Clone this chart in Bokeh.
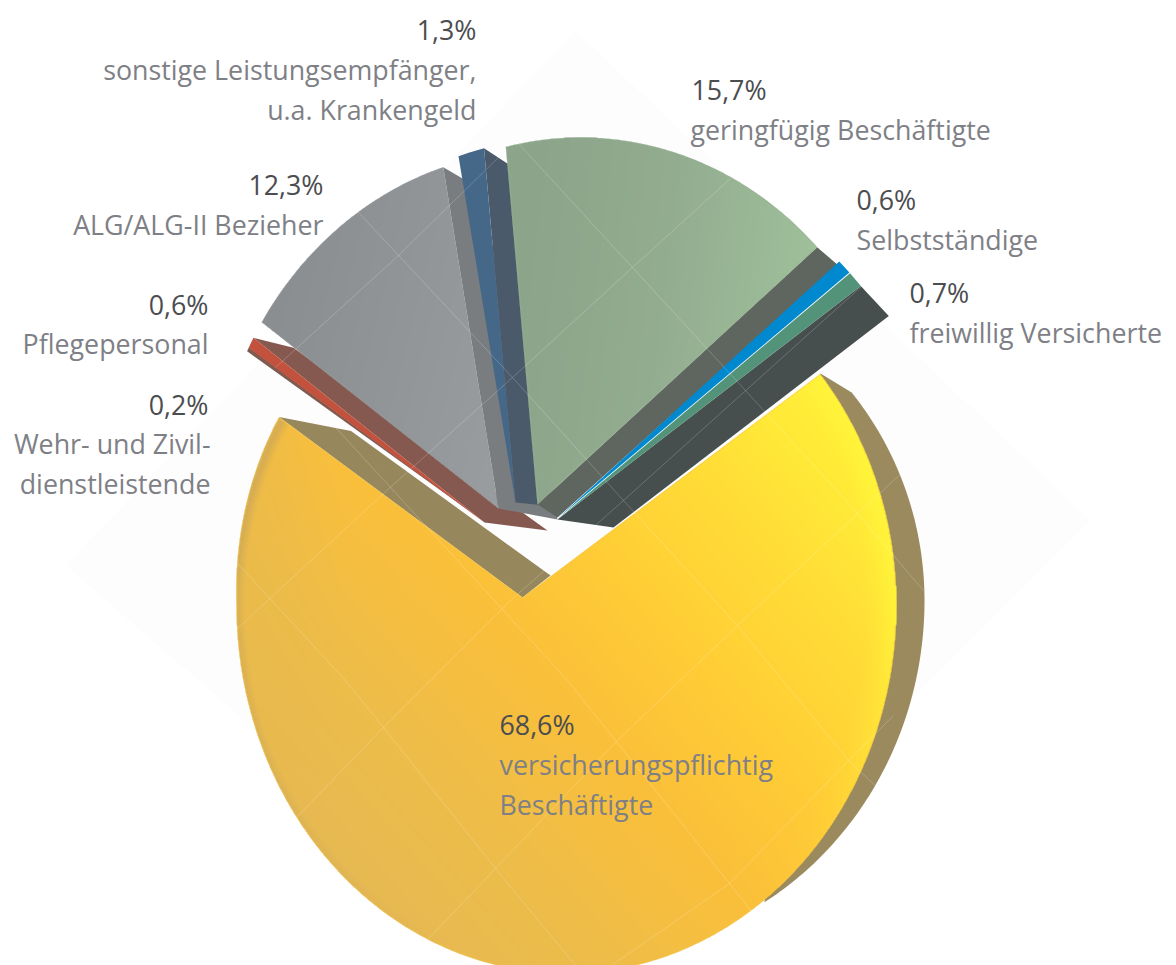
import numpy as np
from bokeh.plotting import figure
from bokeh.models import Range1d, ColumnDataSource
from bokeh.core.properties import value
from bokeh.embed import file_html
from bokeh.resources import INLINE

# ---------- data ----------
names = ["freiwillig Versicherte", "Selbstständige", "geringfügig Beschäftigte",
         "sonstige Leistungsempfänger", "ALG/ALG-II Bezieher", "Pflegepersonal",
         "Wehr- und Zivildienstleistende", "versicherungspflichtig Beschäftigte"]
shares = [0.7, 0.6, 15.7, 1.3, 12.3, 0.6, 0.2, 68.6]
face_colors = ["#53937A", "#0089CF", "#96B193", "#466888", "#94979A", "#C2523D", "#7E5A4F", "#F2C348"]
wall_colors = ["#464F4E", None, "#5F6660", "#4A5A6B", "#7A7D80", "#85594F", None, "#97875C"]

value_labels = ["1,3%", "12,3%", "0,6%", "0,2%", "15,7%", "0,6%", "0,7%", "68,6%"]
value_x = [476, 323, 208, 208, 691, 856, 909, 499]
value_y = [39.5, 194, 314, 414, 99, 209, 302, 734]
value_align = ["right"] * 4 + ["left"] * 4
name_labels = ["sonstige Leistungsempfänger,", "u.a. Krankengeld", "ALG/ALG-II Bezieher", "Pflegepersonal",
               "Wehr- und Zivil-", "dienstleistende", "geringfügig Beschäftigte", "Selbstständige",
               "freiwillig Versicherte", "versicherungspflichtig", "Beschäftigte"]
name_x = [476, 476, 323, 208, 210, 210, 690, 856, 909, 499, 499]
name_y = [79, 119, 234, 353, 453, 493, 139, 249, 342, 774, 814]
name_align = ["right"] * 6 + ["left"] * 5

# ---------- layout of the exploded, perspective pie (pixels of the page) ----------
W, H = 1176, 965
TEXT_SHIFT = -10.5
RX, RY = 330.0, 362.0
START = 39.15
centre_x = [612, 612, 580, 560, 542, 543, 543, 566]
centre_y = [524, 524, 499, 500, 512, 510, 510, 605]
apex_x = [557, 557, 537, 515, 498, 484, 482, 522]
apex_y = [519, 518, 504, 502, 508, 522, 520, 597]
rot = [2.05, 2.45, 0.35, 3.05, 2.47, 2.19, 1.75, -3.55]       # perspective correction, degrees
stretch = [1.10, 1.15, 1.042, 0.983, 0.921, 0.83, 0.97, 1.0168]
shear = [0, 0, 0, 0, 0, 0, 0, 0.035]
ry_below = [362, 362, 362, 362, 362, 362, 362, 368]
wall_out = [(28, 30), None, (21, 18), (26, 17), (36, 21), (40, 10), None, (72, 14)]
wall_in = [(56, 8), None, (20, 13), (40, 4), (59, 11), (63, 8), None, (28, -22)]


def arc(cx, cy, a0, a1, rx=RX, ry=RY, ry2=None, n=None, k=0.0):
    n = n or max(3, int(abs(a1 - a0) * 1.5))
    t = np.radians(np.linspace(a0, a1, n))
    s, c = np.sin(t), np.cos(t)
    sy = np.where(s >= 0, ry, ry2 or ry) * s
    return cx + rx * c - k * np.clip(sy, 0, None) * np.clip(-c, 0, None), cy - sy


cum = np.concatenate([[0], np.cumsum(shares)[:-1]]) * 3.6 + START
a_start = [c + r for c, r in zip(cum, rot)]
a_end = [s + v * 3.6 * k for s, v, k in zip(a_start, shares, stretch)]


def face(i):
    x, y = arc(centre_x[i], centre_y[i], a_start[i], a_end[i], ry2=ry_below[i], k=shear[i])
    return np.r_[apex_x[i], x], np.r_[apex_y[i], y]


def wall(i):
    x, y = arc(centre_x[i], centre_y[i], a_start[i], a_start[i], n=2, k=shear[i])
    ox, oy = x[0], y[0]
    ax, ay = apex_x[i], apex_y[i]
    return ([ax, ox, ox + wall_out[i][0], ax + wall_in[i][0]],
            [ay, oy, oy + wall_out[i][1], ay + wall_in[i][1]])


def hexrgb(c):
    return np.array([int(c[k:k + 2], 16) for k in (1, 3, 5)], float)


def raster_mask(px, py):
    x0, x1 = int(np.floor(px.min())), int(np.ceil(px.max()))
    y0, y1 = int(np.floor(py.min())), int(np.ceil(py.max()))
    w, h = x1 - x0, y1 - y0
    m = np.zeros((h, w), bool)
    qx, qy = np.r_[px[1:], px[0]], np.r_[py[1:], py[0]]
    for r in range(h):
        yc = y0 + r + .5
        hit = ((py <= yc) & (qy > yc)) | ((qy <= yc) & (py > yc))
        xs = np.sort(px[hit] + (yc - py[hit]) / (qy[hit] - py[hit]) * (qx[hit] - px[hit]))
        for a, b in zip(xs[::2], xs[1::2]):
            m[r, max(0, int(np.ceil(a - x0 - .5))):max(0, int(np.floor(b - x0 - .5)) + 1)] = True
    e = m.copy()
    e[1:] &= m[:-1]; e[:-1] &= m[1:]; e[:, 1:] &= m[:, :-1]; e[:, :-1] &= m[:, 1:]
    alpha = np.where(e, 255, np.where(m, 130, 0))
    X, Y = np.meshgrid(x0 + np.arange(w) + .5, y0 + np.arange(h) + .5)
    return alpha, X, Y, x0, y0, w, h


def ramp(t, stops):
    ts = [s[0] for s in stops]
    cols = np.array([hexrgb(s[1]) for s in stops])
    return np.stack([np.interp(t, ts, cols[:, k]) for k in range(3)], -1)


def shade(p, i, fn):
    px, py = face(i)
    alpha, X, Y, x0, y0, w, h = raster_mask(px, py)
    rgb = fn(X, Y)
    img = np.zeros((h, w), dtype=np.uint32)
    v = img.view(np.uint8).reshape(h, w, 4)
    v[..., 0] = rgb[..., 0]; v[..., 1] = rgb[..., 1]; v[..., 2] = rgb[..., 2]
    v[..., 3] = alpha
    p.image_rgba(image=[img], x=x0, y=y0, dw=w, dh=h)


def yellow_shade(X, Y):
    i = 7
    t = (X - 555) * .75 - (Y - 680) * .66
    c = ramp(t, [(-290, "#E6B953"), (-150, "#EEBD49"), (0, "#FBC03A"), (110, "#FFCC36"),
                 (250, "#FFDD37"), (330, "#FFE937"), (400, "#FFF03A")])
    left = np.clip((340 - X) / 100, 0, 1)[..., None] * .6
    c = c + (hexrgb("#E9BA4C") - c) * left
    dx, dy = (X - centre_x[i]) / RX, (Y - centre_y[i]) / np.where(Y > centre_y[i], ry_below[i], RY)
    r = np.hypot(dx, dy)
    th = np.arctan2(-dy, dx)
    glow = np.clip((r - .90) / .09, 0, 1) ** 1.5 * np.clip(np.cos(th - np.radians(20)), 0, 1) ** 4
    c = c + (hexrgb("#FFF53A") - c) * glow[..., None]
    dull = np.clip((r - .975) / .025, 0, 1) * np.clip(-np.cos(th + np.radians(20)), 0, 1) * .5
    c = c + (hexrgb("#C0A060") - c) * dull[..., None]
    return c


def green_shade(X, Y):
    return ramp((X - 505) * .95 + (Y - 300) * .12, [(0, "#8CA48A"), (150, "#93AD90"), (310, "#A1C39C")])


def grey_shade(X, Y):
    return ramp((X - 263) + (Y - 323) * .25, [(0, "#8B8E90"), (130, "#929598"), (290, "#9B9EA1")])


p = figure(width=W, height=H, x_range=Range1d(0, W), y_range=Range1d(H, 0),
           output_backend="svg", toolbar_location=None, min_border=0,
           background_fill_color="white", border_fill_color="white", outline_line_color=None)
p.axis.visible = False
p.grid.visible = False

# very faint diamond behind the pie
p.patch([65, 575, 1090, 590], [565, 30, 520, 1020], fill_color="#FDFDFD", line_color=None)

# rim wall of the big slice, then its radial wall and its face
wx, wy = arc(594, 600, 38.8, -59, rx=330, ry=332, ry2=352, n=120)
p.patch(np.r_[820, wx], np.r_[373, wy], fill_color="#9A8A5E", line_color=None)


def draw_wall(i):
    x, y = wall(i)
    p.patch(x, y, fill_color=wall_colors[i], line_color=None)


def draw_face(i):
    x, y = face(i)
    p.patch(x, y, fill_color=face_colors[i], line_color=None)


draw_wall(7); draw_face(7); shade(p, 7, yellow_shade)
draw_face(6)
draw_wall(5); draw_face(5)
draw_wall(4)
draw_wall(3)
draw_wall(2)
draw_face(3)
draw_face(4); shade(p, 4, grey_shade)
draw_face(2); shade(p, 2, green_shade)
draw_wall(0)
draw_face(0)
draw_face(1)

# fine light mesh lying over the slices
mesh_a = [[(237, 563), (345, 680), (383, 727), (495, 868), (575, 965)],
          [(335, 427), (503, 610), (567, 680), (616, 741), (729, 883), (766, 930)],
          [(358, 212), (512, 377), (623, 500), (737, 625), (848, 760), (880, 790)],
          [(518, 143), (632, 267), (745, 390), (857, 513), (923, 590)]]
mesh_b = [[(275, 367), (398, 255), (505, 150)],
          [(237, 628), (383, 493), (512, 377), (632, 267), (730, 178)],
          [(295, 818), (383, 727), (510, 600), (623, 500), (862, 285)],
          [(412, 955), (495, 868), (616, 741), (737, 625), (857, 513), (915, 460)],
          [(611, 965), (729, 883), (848, 760), (893, 715)]]
mesh = mesh_a + mesh_b
p.multi_line([[q[0] for q in l] for l in mesh], [[q[1] for q in l] for l in mesh],
             line_color="white", line_alpha=.33, line_width=.6)

FONT = "Open Sans"
SIZE = "26.8px"
p.text(x="x", y="y", text="t", text_align="a", text_baseline="alphabetic",
       source=ColumnDataSource(dict(x=value_x, y=[v + TEXT_SHIFT for v in value_y], t=value_labels, a=value_align)),
       text_font=value(FONT), text_font_size=value(SIZE), text_color="#4B4D50")
p.text(x="x", y="y", text="t", text_align="a", text_baseline="alphabetic",
       source=ColumnDataSource(dict(x=name_x, y=[v + TEXT_SHIFT for v in name_y], t=name_labels, a=name_align)),
       text_font=value(FONT), text_font_size=value(SIZE), text_color="#7E8086")

open("out.html", "w").write(file_html(p, INLINE))
